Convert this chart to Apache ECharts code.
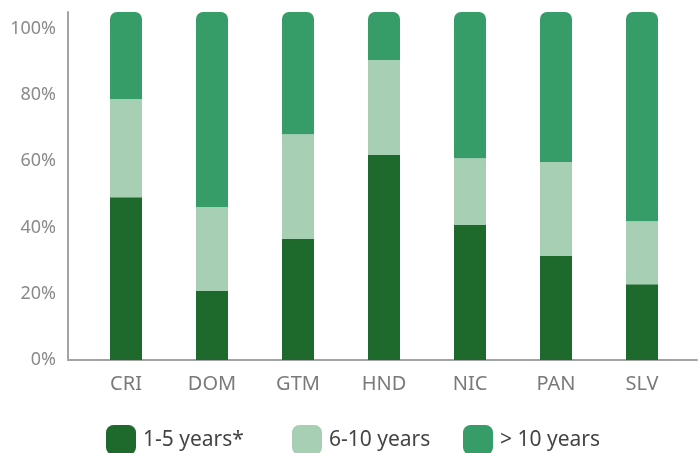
<!DOCTYPE html>
<html>
<head>
<meta charset="utf-8">
<style>
  html, body { margin: 0; padding: 0; background: #fff; }
  #chart { width: 699px; height: 453px; }
</style>
<script src="https://cdn.jsdelivr.net/npm/echarts@6/dist/echarts.min.js"></script>
</head>
<body>
<div id="chart"></div>
<script>
// Share of firms by age group, per country (percent)
const countries = ['CRI', 'DOM', 'GTM', 'HND', 'NIC', 'PAN', 'SLV'];
const seriesNames = ['1-5 years*', '6-10 years', '> 10 years'];
const years1to5 = [46.8, 19.8, 34.8, 58.9, 38.8, 29.9, 21.8];
const years6to10 = [28.2, 24.2, 30.1, 27.3, 19.2, 27.0, 18.1];
const over10 = [25.0, 56.0, 35.1, 13.8, 42.0, 43.1, 60.1];
const yTicks = [0, 20, 40, 60, 80, 100];

const colors = ['#1d6a2c', '#a6cfb4', '#369d69'];
const fontFamily = '"Noto Sans", "Open Sans", sans-serif';

const chart = echarts.init(document.getElementById('chart'), null, { renderer: 'canvas' });

const legendBase = {
  top: 425,
  padding: 0,
  icon: 'roundRect',
  itemWidth: 30,
  itemHeight: 30,
  itemGap: 0,
  textStyle: { fontFamily, fontSize: 21, color: '#444', padding: [0, 0, 0, 2] },
  selectedMode: false
};

chart.setOption({
  animation: false,
  grid: [
    // frame with the percent axis
    { left: 68, right: 2, top: 12, bottom: 93 },
    // bar area
    { left: 83, width: 602, top: 12, bottom: 93 }
  ],
  legend: [
    Object.assign({}, legendBase, { left: 106, data: [seriesNames[0]] }),
    Object.assign({}, legendBase, { left: 292, data: [seriesNames[1]] }),
    Object.assign({}, legendBase, { left: 463, data: [seriesNames[2]] })
  ],
  xAxis: [
    {
      type: 'category', gridIndex: 0, data: countries,
      axisLine: { show: true, lineStyle: { color: '#a3a3a3', width: 2 } },
      axisTick: { show: false }, axisLabel: { show: false }
    },
    {
      type: 'category', gridIndex: 1, data: countries,
      axisLine: { show: false }, axisTick: { show: false },
      axisLabel: { fontFamily, fontSize: 20, color: '#7a7a7a', margin: 14 }
    }
  ],
  yAxis: [
    {
      type: 'value', gridIndex: 0, min: 0, max: 105, interval: 20,
      axisLine: { show: true, lineStyle: { color: '#a3a3a3', width: 2 } },
      axisTick: { show: false },
      splitLine: { show: false },
      axisLabel: {
        fontFamily, fontSize: 18, color: '#8a8a8a', margin: 12,
        padding: [0, 0, 7, 0],
        showMaxLabel: false,
        formatter: v => (yTicks.includes(v) ? v + '%' : '')
      }
    },
    {
      type: 'value', gridIndex: 1, min: 0, max: 100, show: false
    }
  ],
  series: [
    {
      name: seriesNames[0], type: 'bar', stack: 'age', xAxisIndex: 1, yAxisIndex: 1,
      barWidth: 32, data: years1to5, itemStyle: { color: colors[0] }
    },
    {
      name: seriesNames[1], type: 'bar', stack: 'age', xAxisIndex: 1, yAxisIndex: 1,
      barWidth: 32, data: years6to10, itemStyle: { color: colors[1] }
    },
    {
      name: seriesNames[2], type: 'bar', stack: 'age', xAxisIndex: 1, yAxisIndex: 1,
      barWidth: 32, data: over10, itemStyle: { color: colors[2], borderRadius: [7, 7, 0, 0] }
    }
  ]
});
</script>
</body>
</html>
